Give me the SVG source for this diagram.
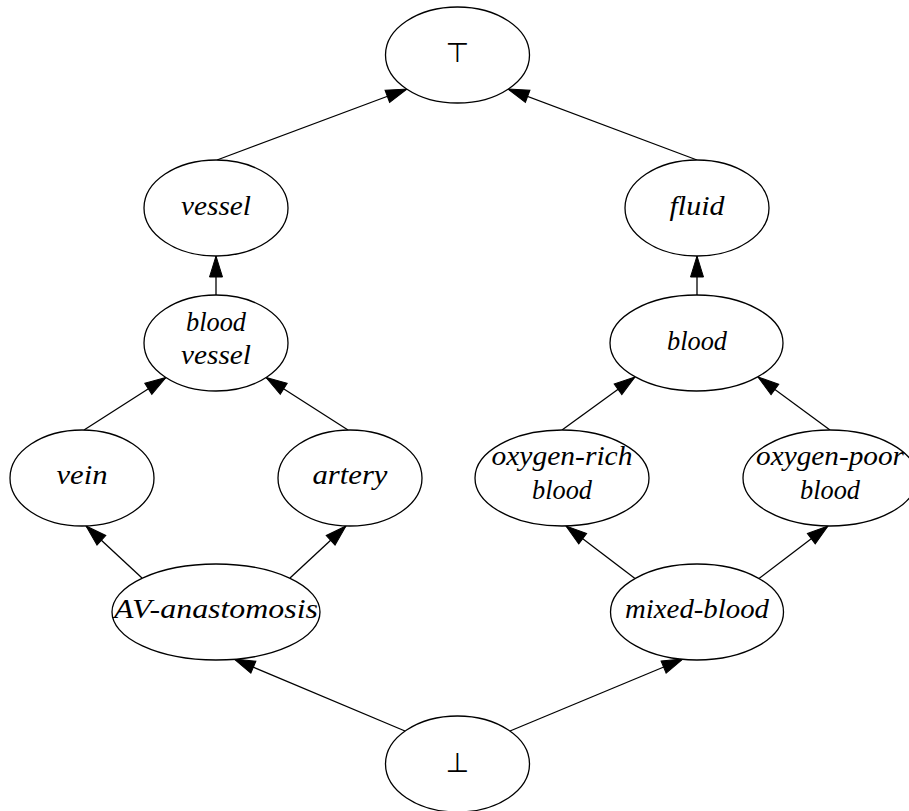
<svg xmlns="http://www.w3.org/2000/svg" width="909" height="811" viewBox="0 0 909 811">
  <style>
    .node ellipse { fill: #ffffff; stroke: #000000; stroke-width: 1.3; }
    .lbl { font-family: "Liberation Serif", "DejaVu Serif", serif; font-style: italic; font-size: 28px; fill: #000000; text-anchor: middle; }
    .sym { font-family: "DejaVu Sans", "Liberation Sans", sans-serif; font-size: 27px; fill: #000000; text-anchor: middle; }
    .edge { fill: none; stroke: #000000; stroke-width: 1.3; marker-end: url(#arrow); }
  </style>
  <defs>
    <marker id="arrow" markerUnits="userSpaceOnUse" markerWidth="24" markerHeight="16" refX="22" refY="7" orient="auto" overflow="visible">
      <path d="M1,0.5 L22,7 L1,13.5 Z" fill="#000000" stroke="#000000" stroke-width="1"/>
    </marker>
  </defs>

  <!-- connectors: each edge runs from the lower node to the node above it -->
  <g id="edges">
    <path class="edge" d="M217,160 L407,89"/>
    <path class="edge" d="M697,160 L508,89"/>
    <path class="edge" d="M216,295 L216,256"/>
    <path class="edge" d="M697,295 L697,256"/>
    <path class="edge" d="M84,430 L166,377.5"/>
    <path class="edge" d="M348,430 L266,377.5"/>
    <path class="edge" d="M562,430 L635,377"/>
    <path class="edge" d="M830,430 L758,377"/>
    <path class="edge" d="M142,578 L86,526"/>
    <path class="edge" d="M290,578 L346,526"/>
    <path class="edge" d="M635,578.5 L566,526"/>
    <path class="edge" d="M759,578.5 L828,526"/>
    <path class="edge" d="M405,731 L234,659"/>
    <path class="edge" d="M510,731 L683,659"/>
  </g>

  <!-- nodes -->
  <g id="top" class="node">
    <ellipse cx="457.5" cy="55" rx="72" ry="48"/>
    <text class="sym" x="457.5" y="62">⊤</text>
  </g>
  <g id="vessel" class="node">
    <ellipse cx="216" cy="208" rx="72" ry="48"/>
    <text class="lbl" x="216" y="215" textLength="70" lengthAdjust="spacingAndGlyphs">vessel</text>
  </g>
  <g id="fluid" class="node">
    <ellipse cx="697" cy="208" rx="72" ry="48"/>
    <text class="lbl" x="697" y="215" textLength="55" lengthAdjust="spacingAndGlyphs">fluid</text>
  </g>
  <g id="blood-vessel" class="node">
    <ellipse cx="216" cy="343" rx="72" ry="48"/>
    <text class="lbl" x="216" y="331" textLength="60" lengthAdjust="spacingAndGlyphs">blood</text>
    <text class="lbl" x="216" y="364" textLength="70" lengthAdjust="spacingAndGlyphs">vessel</text>
  </g>
  <g id="blood" class="node">
    <ellipse cx="696.5" cy="343" rx="86.5" ry="48"/>
    <text class="lbl" x="697" y="350" textLength="60" lengthAdjust="spacingAndGlyphs">blood</text>
  </g>
  <g id="vein" class="node">
    <ellipse cx="82" cy="478" rx="72" ry="48"/>
    <text class="lbl" x="82" y="484" textLength="51" lengthAdjust="spacingAndGlyphs">vein</text>
  </g>
  <g id="artery" class="node">
    <ellipse cx="350" cy="478" rx="72" ry="48"/>
    <text class="lbl" x="350" y="484" textLength="75" lengthAdjust="spacingAndGlyphs">artery</text>
  </g>
  <g id="oxygen-rich-blood" class="node">
    <ellipse cx="562" cy="478" rx="87" ry="48"/>
    <text class="lbl" x="562" y="465" textLength="141" lengthAdjust="spacingAndGlyphs">oxygen-rich</text>
    <text class="lbl" x="562" y="499" textLength="60" lengthAdjust="spacingAndGlyphs">blood</text>
  </g>
  <g id="oxygen-poor-blood" class="node">
    <ellipse cx="830" cy="478" rx="87" ry="48"/>
    <text class="lbl" x="830" y="465" textLength="148" lengthAdjust="spacingAndGlyphs">oxygen-poor</text>
    <text class="lbl" x="830" y="499" textLength="60" lengthAdjust="spacingAndGlyphs">blood</text>
  </g>
  <g id="av-anastomosis" class="node">
    <ellipse cx="216" cy="612" rx="104" ry="48"/>
    <text class="lbl" x="216" y="618" textLength="204" lengthAdjust="spacingAndGlyphs">AV-anastomosis</text>
  </g>
  <g id="mixed-blood" class="node">
    <ellipse cx="697" cy="612" rx="86.5" ry="48"/>
    <text class="lbl" x="697" y="618" textLength="144" lengthAdjust="spacingAndGlyphs">mixed-blood</text>
  </g>
  <g id="bottom" class="node">
    <ellipse cx="457.5" cy="764" rx="72" ry="48"/>
    <text class="sym" x="457.5" y="772">⊥</text>
  </g>
</svg>
